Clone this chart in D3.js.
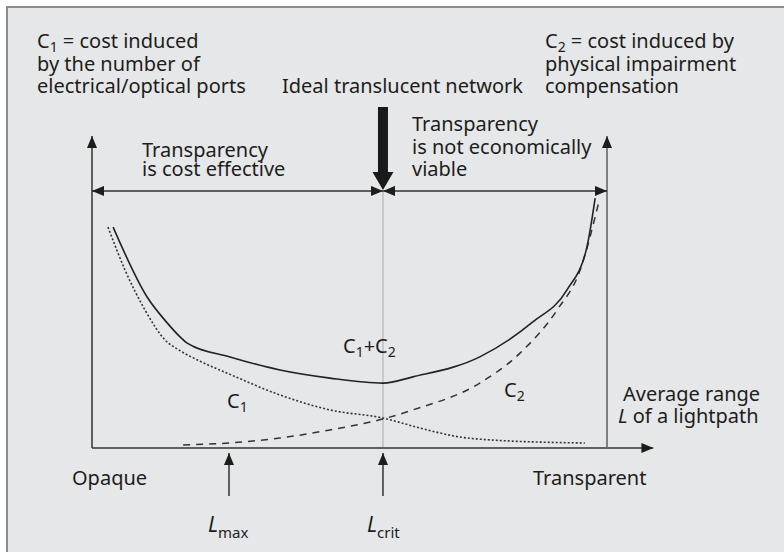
<!DOCTYPE html>
<html lang="en">
<head>
<meta charset="UTF-8">
<title>Transparency cost chart</title>
<script src="https://cdnjs.cloudflare.com/ajax/libs/d3/7.8.5/d3.min.js"></script>
<style>
  body { margin: 0; background: #fff; }
  svg text { font-family: "Noto Sans", "Open Sans", sans-serif; fill: #1d1d1b; }
</style>
</head>
<body>
<div id="chart"></div>
<script>
  // x: 0 = left axis, 100 = right limit; y: relative cost
  var c1x = [3.1, 6.4, 10.3, 14.2, 17.1, 21.0, 26.8, 36.5, 46.2, 56.5, 63.7, 71.5, 77.3, 95.7];
  var c1y = [70.8, 57.1, 44.2, 34.6, 31.2, 27.8, 23.6, 17.0, 12.2, 9.6, 6.4, 3.5, 2.6, 1.6];

  var c2x = [17.7, 26.6, 36.5, 46.2, 56.5, 62.3, 75.3, 83.1, 90.3, 94.8, 98.4];
  var c2y = [1.0, 1.6, 3.2, 5.8, 9.3, 12.2, 20.8, 30.4, 44.2, 57.1, 78.8];

  var sumx = [4.1, 10.7, 14.6, 17.1, 18.4, 26.8, 36.5, 46.2, 56.5, 62.3, 75.3, 85.6, 92.2, 96.1, 97.7];
  var sumy = [70.8, 48.4, 40.1, 35.6, 33.7, 29.2, 25.0, 22.4, 20.8, 22.8, 29.2, 40.4, 50.6, 64.4, 80.1];

  var lMax = 26.6;
  var lCrit = 56.5;
  var spanY = 82.4;   // level of the double arrows

  var width = 784, height = 552;
  var ink = "#1d1d1b";

  var svg = d3.select("#chart").append("svg")
    .attr("width", width)
    .attr("height", height);

  // panel
  svg.append("rect")
    .attr("x", 7).attr("y", 7)
    .attr("width", width - 7).attr("height", height - 7)
    .attr("fill", "#e6e7e9");
  svg.append("path")
    .attr("d", "M7," + height + "V7H" + width)
    .attr("fill", "none").attr("stroke", "#8c8c8c").attr("stroke-width", 2);

  var x = d3.scaleLinear().domain([0, 100]).range([92, 607]);
  var y = d3.scaleLinear().domain([0, 100]).range([448, 136]);

  function zip(xs, ys) {
    return xs.map(function(v, i) { return [v, ys[i]]; });
  }

  var line = d3.line()
    .x(function(d) { return x(d[0]); })
    .y(function(d) { return y(d[1]); })
    .curve(d3.curveMonotoneX);

  // arrow heads
  var defs = svg.append("defs");
  function marker(id, w, h, color) {
    defs.append("marker")
      .attr("id", id)
      .attr("viewBox", "0 0 " + w + " " + h)
      .attr("refX", w).attr("refY", h / 2)
      .attr("markerWidth", w).attr("markerHeight", h)
      .attr("markerUnits", "userSpaceOnUse")
      .attr("orient", "auto-start-reverse")
      .append("path")
      .attr("d", "M0,0L" + w + "," + (h / 2) + "L0," + h + "Z")
      .attr("fill", color);
  }
  marker("head", 12, 10, ink);

  // centre line at L_crit
  svg.append("line")
    .attr("x1", x(lCrit)).attr("x2", x(lCrit))
    .attr("y1", y(spanY)).attr("y2", y(0))
    .attr("stroke", "#b4b4b4").attr("stroke-width", 1.2);

  // axes
  svg.append("line")
    .attr("x1", x(0)).attr("x2", x(0))
    .attr("y1", y(0)).attr("y2", y(100))
    .attr("stroke", "#333").attr("stroke-width", 1.5)
    .attr("marker-end", "url(#head)");
  svg.append("line")
    .attr("x1", x(0)).attr("x2", x(109))
    .attr("y1", y(0)).attr("y2", y(0))
    .attr("stroke", "#333").attr("stroke-width", 1.5)
    .attr("marker-end", "url(#head)");
  svg.append("line")
    .attr("x1", x(100)).attr("x2", x(100))
    .attr("y1", y(0)).attr("y2", y(100))
    .attr("stroke", "#666").attr("stroke-width", 1.6)
    .attr("marker-end", "url(#head)");

  // double arrows
  [[0, lCrit], [lCrit, 100]].forEach(function(seg) {
    svg.append("line")
      .attr("x1", x(seg[0])).attr("x2", x(seg[1]))
      .attr("y1", y(spanY)).attr("y2", y(spanY))
      .attr("stroke", "#333").attr("stroke-width", 1.5)
      .attr("marker-start", "url(#head)").attr("marker-end", "url(#head)");
  });

  // curves
  svg.append("path")
    .datum(zip(c1x, c1y))
    .attr("d", line)
    .attr("fill", "none").attr("stroke", "#333").attr("stroke-width", 1.6)
    .attr("stroke-dasharray", "2,2");
  svg.append("path")
    .datum(zip(c2x, c2y))
    .attr("d", line)
    .attr("fill", "none").attr("stroke", "#333").attr("stroke-width", 1.5)
    .attr("stroke-dasharray", "7,6");
  svg.append("path")
    .datum(zip(sumx, sumy))
    .attr("d", line)
    .attr("fill", "none").attr("stroke", "#222").attr("stroke-width", 1.6);

  // big "ideal" arrow
  var ax = x(lCrit);
  svg.append("path")
    .attr("d", "M" + (ax - 5) + ",107V172H" + (ax - 10.5) + "L" + ax + ",190L" + (ax + 10.5) +
      ",172H" + (ax + 5) + "V107Z")
    .attr("fill", "#1a1a1a");

  // L markers
  [lMax, lCrit].forEach(function(v) {
    svg.append("line")
      .attr("x1", x(v)).attr("x2", x(v))
      .attr("y1", 496).attr("y2", 453)
      .attr("stroke", "#333").attr("stroke-width", 1.5)
      .attr("marker-end", "url(#head)");
  });

  // texts: one <text> per block, one row of parts per line
  function label(px, baselines, rows, size) {
    var t = svg.append("text").attr("font-size", size || 20);
    rows.forEach(function(parts, r) {
      parts.forEach(function(p, k) {
        var s = t.append("tspan").text(p.t);
        if (k === 0) s.attr("x", r === 0 || !p.x ? px : p.x).attr("y", baselines[r]);
        if (k === 0 && p.x) s.attr("x", p.x);
        if (p.i) s.attr("font-style", "italic");
        if (p.sub) s.attr("font-size", p.sub).attr("baseline-shift", p.dy);
      });
    });
    return t;
  }

  label(37, [48, 71, 93], [
    [{t: "C"}, {t: "1", sub: 14, dy: -4}, {t: " = cost induced"}],
    [{t: "by the number of"}],
    [{t: "electrical/optical ports"}]
  ]);

  label(545, [48, 71, 93], [
    [{t: "C"}, {t: "2", sub: 14, dy: -4}, {t: " = cost induced by"}],
    [{t: "physical impairment"}],
    [{t: "compensation"}]
  ]);

  label(282, [93], [[{t: "Ideal translucent network"}]]);

  label(142, [157, 176], [
    [{t: "Transparency"}],
    [{t: "is cost effective"}]
  ]);

  label(412, [131, 154, 176], [
    [{t: "Transparency"}],
    [{t: "is not economically"}],
    [{t: "viable"}]
  ]);

  label(343, [353], [[{t: "C"}, {t: "1", sub: 14, dy: -4}, {t: "+C"}, {t: "2", sub: 14, dy: -4}]]);
  label(227, [408], [[{t: "C"}, {t: "1", sub: 14, dy: -4}]]);
  label(504, [397], [[{t: "C"}, {t: "2", sub: 14, dy: -4}]]);

  label(623, [401, 423], [
    [{t: "Average range"}],
    [{t: "L", i: true, x: 618}, {t: " of a lightpath"}]
  ]);

  label(72, [485], [[{t: "Opaque"}]]);
  label(533, [485], [[{t: "Transparent"}]]);

  label(208, [532], [[{t: "L", i: true}, {t: "max", sub: 15, dy: -6}]], 21);
  label(367, [532], [[{t: "L", i: true}, {t: "crit", sub: 15, dy: -6}]], 21);
</script>
</body>
</html>
